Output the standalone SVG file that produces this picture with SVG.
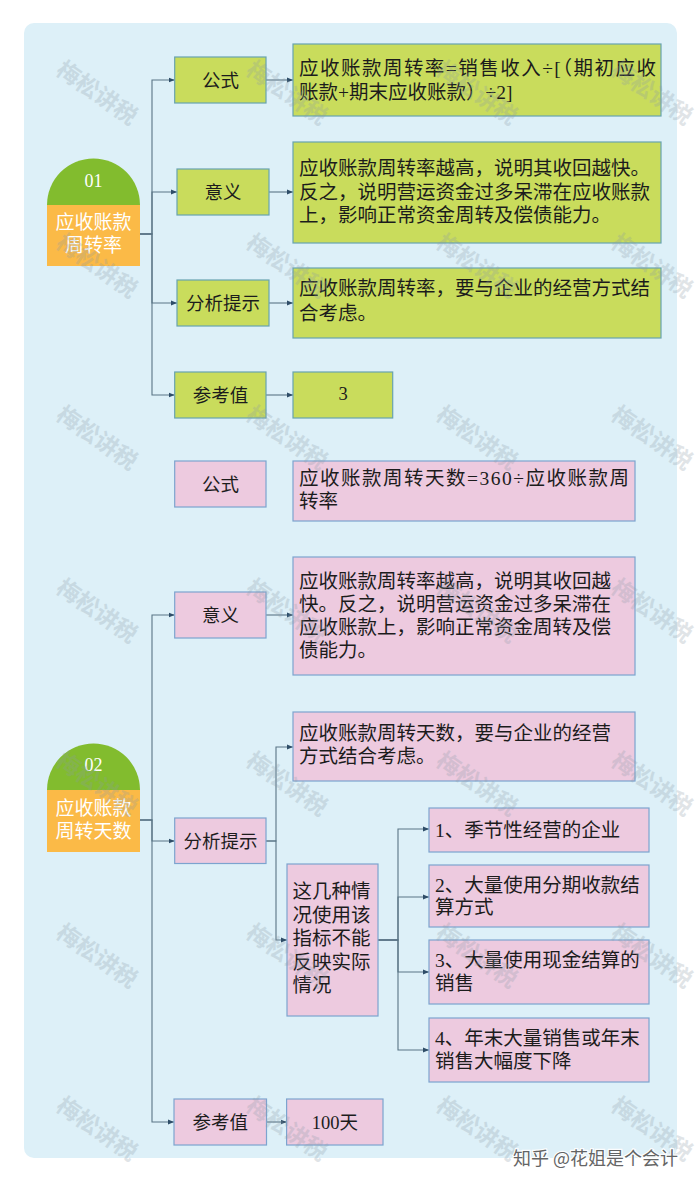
<svg xmlns="http://www.w3.org/2000/svg" width="700" height="1183" viewBox="0 0 700 1183">
<defs>
<marker id="arr" viewBox="0 0 6 6" refX="6" refY="3" markerWidth="6" markerHeight="6" markerUnits="userSpaceOnUse" orient="auto">
<path d="M0,0.6 L6,3 L0,5.4 Z" fill="#2e4d68"/>
</marker>
<style>
.bg{fill:#ddf0f8}
.g{fill:#c9dc5c;stroke:#68a3b0;stroke-width:1.2}
.p{fill:#edcadf;stroke:#7ca4cf;stroke-width:1.2}
.t{font-family:"Liberation Serif","Noto Sans CJK SC",serif;font-size:19.5px;fill:#1c1c1c}
.l{font-family:"Liberation Serif","Noto Sans CJK SC",serif;font-size:18.5px;fill:#1c1c1c;text-anchor:middle}
.w{font-family:"Liberation Serif","Noto Sans CJK SC",serif;fill:#ffffff;text-anchor:middle}
.c{fill:none;stroke:#5a7585;stroke-width:1.1}
.wm{font-family:"Noto Sans CJK SC",sans-serif;font-size:23px;font-weight:bold;fill:#8b9ba6;opacity:0.26;text-anchor:middle}
</style>
</defs>
<rect class="bg" x="24" y="23" width="653" height="1135" rx="10"/>

<g id="connectors">
<path class="c" d="M140,234 H152 V80 H174.7" marker-end="url(#arr)"/>
<path class="c" d="M140,234 H152 V192 H177" marker-end="url(#arr)"/>
<path class="c" d="M140,234 H152 V303 H177" marker-end="url(#arr)"/>
<path class="c" d="M140,234 H152 V395 H174.7" marker-end="url(#arr)"/>
<path class="c" d="M266,80 H293" marker-end="url(#arr)"/>
<path class="c" d="M269,192 H293" marker-end="url(#arr)"/>
<path class="c" d="M269,303 H293" marker-end="url(#arr)"/>
<path class="c" d="M266,395 H293" marker-end="url(#arr)"/>
<path class="c" d="M140,820 H152 V615 H174.7" marker-end="url(#arr)"/>
<path class="c" d="M140,820 H152 V841 H174.7" marker-end="url(#arr)"/>
<path class="c" d="M140,820 H152 V1122 H174" marker-end="url(#arr)"/>
<path class="c" d="M266,615 H293" marker-end="url(#arr)"/>
<path class="c" d="M266,841 H276 V747 H293" marker-end="url(#arr)"/>
<path class="c" d="M266,841 H276 V940 H287" marker-end="url(#arr)"/>
<path class="c" d="M378,940 H398 V829 H429" marker-end="url(#arr)"/>
<path class="c" d="M378,940 H398 V897 H429" marker-end="url(#arr)"/>
<path class="c" d="M378,940 H398 V972 H429" marker-end="url(#arr)"/>
<path class="c" d="M378,940 H398 V1050 H429" marker-end="url(#arr)"/>
<path class="c" d="M266.5,1122 H286.6" marker-end="url(#arr)"/>
</g>

<g id="node-01">
<path d="M47,205 A46.5,46.5 0 0 1 140,205 Z" fill="#82bc2e"/>
<rect x="47" y="205" width="93" height="61" fill="#fbba47"/>
<text class="w" x="93.5" y="187" font-size="18">01</text>
<text class="w" x="93.5" y="229" font-size="19">应收账款</text>
<text class="w" x="93.5" y="252" font-size="19">周转率</text>
</g>

<g id="s1-gongshi"><rect class="g" x="174.7" y="57" width="91.3" height="46"/><text class="l" x="220.4" y="86.5">公式</text></g>
<g id="s1-yiyi"><rect class="g" x="177" y="169" width="92" height="46"/><text class="l" x="223" y="198.5">意义</text></g>
<g id="s1-fenxi"><rect class="g" x="177" y="280" width="92" height="46"/><text class="l" x="223" y="309.5">分析提示</text></g>
<g id="s1-cankao"><rect class="g" x="174.7" y="372" width="91.3" height="46"/><text class="l" x="220.4" y="401.5">参考值</text></g>

<g id="s1-gongshi-c"><rect class="g" x="293" y="44" width="368" height="72"/>
<text class="t" x="299" y="75" textLength="357" lengthAdjust="spacing">应收账款周转率=销售收入÷[（期初应收</text>
<text class="t" x="299" y="99">账款+期末应收账款）÷2]</text></g>
<g id="s1-yiyi-c"><rect class="g" x="293" y="142" width="368" height="101"/>
<text class="t" x="299" y="175">应收账款周转率越高，说明其收回越快。</text>
<text class="t" x="299" y="199">反之，说明营运资金过多呆滞在应收账款</text>
<text class="t" x="299" y="222">上，影响正常资金周转及偿债能力。</text></g>
<g id="s1-fenxi-c"><rect class="g" x="293" y="268" width="368" height="70"/>
<text class="t" x="299" y="295">应收账款周转率，要与企业的经营方式结</text>
<text class="t" x="299" y="320">合考虑。</text></g>
<g id="s1-cankao-c"><rect class="g" x="293" y="372" width="99.7" height="46"/><text class="l" x="343" y="400">3</text></g>

<g id="s2-gongshi"><rect class="p" x="174.7" y="461" width="91.3" height="46"/><text class="l" x="220.4" y="490.5">公式</text></g>
<g id="s2-gongshi-c"><rect class="p" x="293" y="461" width="342" height="60"/>
<text class="t" x="299" y="485" textLength="330" lengthAdjust="spacing">应收账款周转天数=360÷应收账款周</text>
<text class="t" x="299" y="508">转率</text></g>

<g id="s2-yiyi"><rect class="p" x="174.7" y="592" width="91.3" height="46"/><text class="l" x="220.4" y="621.5">意义</text></g>
<g id="s2-yiyi-c"><rect class="p" x="293" y="557" width="342" height="118"/>
<text class="t" x="299" y="588">应收账款周转率越高，说明其收回越</text>
<text class="t" x="299" y="611">快。反之，说明营运资金过多呆滞在</text>
<text class="t" x="299" y="634">应收账款上，影响正常资金周转及偿</text>
<text class="t" x="299" y="657">债能力。</text></g>

<g id="node-02">
<path d="M47,790 A46.5,46.5 0 0 1 140,790 Z" fill="#82bc2e"/>
<rect x="47" y="790" width="93" height="62" fill="#fbba47"/>
<text class="w" x="93.5" y="771" font-size="18">02</text>
<text class="w" x="93.5" y="815" font-size="19">应收账款</text>
<text class="w" x="93.5" y="838" font-size="19">周转天数</text>
</g>

<g id="s2-fenxi"><rect class="p" x="174.7" y="818" width="91.3" height="45.5"/><text class="l" x="220.4" y="847.5">分析提示</text></g>
<g id="s2-fenxi-c"><rect class="p" x="293" y="712" width="342" height="69"/>
<text class="t" x="299" y="740">应收账款周转天数，要与企业的经营</text>
<text class="t" x="299" y="763">方式结合考虑。</text></g>
<g id="s2-cases"><rect class="p" x="287" y="864" width="91" height="152"/>
<text class="t" x="292.5" y="898">这几种情</text>
<text class="t" x="292.5" y="922">况使用该</text>
<text class="t" x="292.5" y="945">指标不能</text>
<text class="t" x="292.5" y="969">反映实际</text>
<text class="t" x="292.5" y="992">情况</text></g>
<g id="s2-item1"><rect class="p" x="429" y="808" width="220" height="44"/>
<text class="t" x="435" y="837">1、季节性经营的企业</text></g>
<g id="s2-item2"><rect class="p" x="429" y="865" width="220" height="62"/>
<text class="t" x="435" y="892">2、大量使用分期收款结</text>
<text class="t" x="435" y="914">算方式</text></g>
<g id="s2-item3"><rect class="p" x="429" y="940" width="220" height="64"/>
<text class="t" x="435" y="967">3、大量使用现金结算的</text>
<text class="t" x="435" y="990">销售</text></g>
<g id="s2-item4"><rect class="p" x="429" y="1018" width="220" height="64"/>
<text class="t" x="435" y="1045">4、年末大量销售或年末</text>
<text class="t" x="435" y="1068">销售大幅度下降</text></g>

<g id="s2-cankao"><rect class="p" x="174" y="1099" width="92.5" height="46"/><text class="l" x="220.2" y="1128.5">参考值</text></g>
<g id="s2-cankao-c"><rect class="p" x="286.6" y="1099" width="96.4" height="46"/><text class="l" x="334.8" y="1128.5">100天</text></g>

<g id="watermarks">
<text class="wm" transform="translate(97,93) rotate(35)" y="8">梅松讲税</text>
<text class="wm" transform="translate(287,93) rotate(35)" y="8">梅松讲税</text>
<text class="wm" transform="translate(477,93) rotate(35)" y="8">梅松讲税</text>
<text class="wm" transform="translate(652,93) rotate(35)" y="8">梅松讲税</text>
<text class="wm" transform="translate(97,266) rotate(35)" y="8">梅松讲税</text>
<text class="wm" transform="translate(287,266) rotate(35)" y="8">梅松讲税</text>
<text class="wm" transform="translate(477,266) rotate(35)" y="8">梅松讲税</text>
<text class="wm" transform="translate(652,266) rotate(35)" y="8">梅松讲税</text>
<text class="wm" transform="translate(97,438) rotate(35)" y="8">梅松讲税</text>
<text class="wm" transform="translate(287,438) rotate(35)" y="8">梅松讲税</text>
<text class="wm" transform="translate(477,438) rotate(35)" y="8">梅松讲税</text>
<text class="wm" transform="translate(652,438) rotate(35)" y="8">梅松讲税</text>
<text class="wm" transform="translate(97,611) rotate(35)" y="8">梅松讲税</text>
<text class="wm" transform="translate(287,611) rotate(35)" y="8">梅松讲税</text>
<text class="wm" transform="translate(477,611) rotate(35)" y="8">梅松讲税</text>
<text class="wm" transform="translate(652,611) rotate(35)" y="8">梅松讲税</text>
<text class="wm" transform="translate(97,784) rotate(35)" y="8">梅松讲税</text>
<text class="wm" transform="translate(287,784) rotate(35)" y="8">梅松讲税</text>
<text class="wm" transform="translate(477,784) rotate(35)" y="8">梅松讲税</text>
<text class="wm" transform="translate(652,784) rotate(35)" y="8">梅松讲税</text>
<text class="wm" transform="translate(97,956) rotate(35)" y="8">梅松讲税</text>
<text class="wm" transform="translate(287,956) rotate(35)" y="8">梅松讲税</text>
<text class="wm" transform="translate(477,956) rotate(35)" y="8">梅松讲税</text>
<text class="wm" transform="translate(652,956) rotate(35)" y="8">梅松讲税</text>
<text class="wm" transform="translate(97,1129) rotate(35)" y="8">梅松讲税</text>
<text class="wm" transform="translate(287,1129) rotate(35)" y="8">梅松讲税</text>
<text class="wm" transform="translate(477,1129) rotate(35)" y="8">梅松讲税</text>
<text class="wm" transform="translate(652,1129) rotate(35)" y="8">梅松讲税</text>
<text x="513" y="1165" font-family="Noto Sans CJK SC, sans-serif" font-size="18" fill="#555" stroke="#ffffff" stroke-width="2.5" paint-order="stroke" opacity="0.9">知乎 @花姐是个会计</text>
</g>
</svg>
